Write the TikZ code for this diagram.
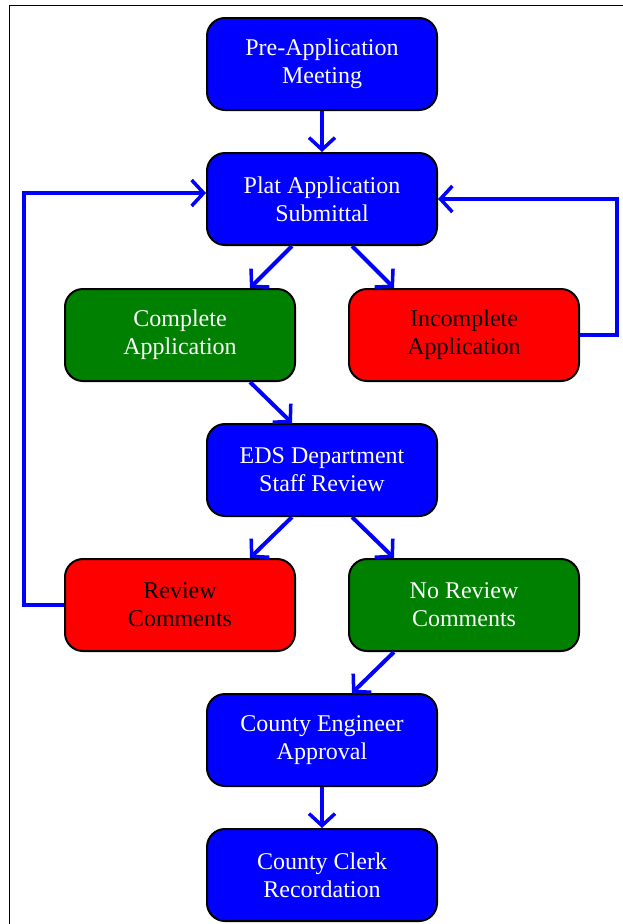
\documentclass[tikz,border=0pt]{standalone}
\usepackage{fontspec}
\setmainfont{Liberation Serif}
\usetikzlibrary{arrows.meta}
\definecolor{flowblue}{RGB}{0,0,255}
\definecolor{flowgreen}{RGB}{0,128,0}
\definecolor{flowred}{RGB}{255,0,0}
\begin{document}
\begin{tikzpicture}[
        x=1pt, y=-1pt,
        box/.style={rectangle, draw=black, line width=2pt, rounded corners=18pt, minimum width=230pt, minimum height=92pt, align=center, font=\fontsize{24}{28}\selectfont},
        stepblue/.style={box, fill=flowblue, text=white},
        okbox/.style={box, fill=flowgreen, text=white},
        failbox/.style={box, fill=flowred, text=black},
        flow/.style={draw=flowblue, line width=4pt, -{Straight Barb[length=12pt, width=26pt, line width=3.5pt]}}
    ]
        \useasboundingbox (0,0) rectangle (623,924);
        \draw[line width=1.5pt] (9.5,940) -- (9.5,5.5) -- (640,5.5);

        \node[stepblue] (premeeting) at (322,64) {Pre-Application\\Meeting};
        \node[stepblue] (submittal) at (322,199) {Plat Application\\Submittal};
        \node[okbox] (complete) at (180,335) {Complete\\Application};
        \node[failbox] (incomplete) at (464,335) {Incomplete\\Application};
        \node[stepblue] (review) at (322,470) {EDS Department\\Staff Review};
        \node[failbox] (comments) at (180,605) {Review\\Comments};
        \node[okbox] (nocomments) at (464,605) {No Review\\Comments};
        \node[stepblue] (engineer) at (322,740) {County Engineer\\Approval};
        \node[stepblue] (clerk) at (322,875) {County Clerk\\Recordation};

        \draw[flow] (premeeting) -- (submittal);
        \draw[flow] ([xshift=-30pt]submittal.south) -- ([xshift=70pt]complete.north);
        \draw[flow] ([xshift=30pt]submittal.south) -- ([xshift=-70pt]incomplete.north);
        \draw[flow] ([xshift=70pt]complete.south) -- ([xshift=-30pt]review.north);
        \draw[flow] ([xshift=-30pt]review.south) -- ([xshift=70pt]comments.north);
        \draw[flow] ([xshift=30pt]review.south) -- ([xshift=-70pt]nocomments.north);
        \draw[flow] ([xshift=-70pt]nocomments.south) -- ([xshift=30pt]engineer.north);
        \draw[flow] (engineer) -- (clerk);

        % loops back to the submittal
        \draw[flow] (incomplete.east) -- ++(37,0) |- (submittal.east);
        \draw[flow] (comments.west) -- ++(-40,0) |- ([yshift=6pt]submittal.west);
    \end{tikzpicture}
\end{document}
